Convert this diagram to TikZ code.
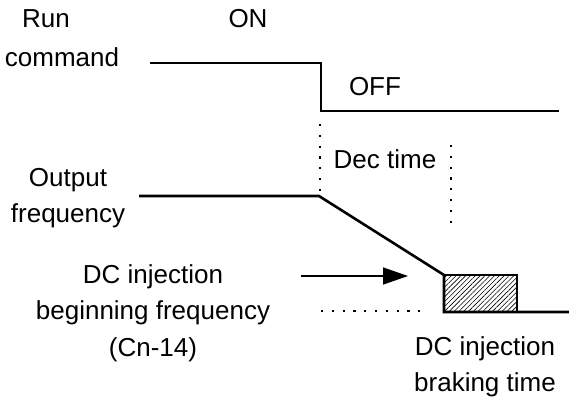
\documentclass[tikz,border=0pt]{standalone}
\usepackage{fontspec}
\setmainfont{Liberation Sans}
\usetikzlibrary{arrows.meta, positioning, patterns.meta}

\begin{document}
\begin{tikzpicture}[
    x=1pt, y=-1pt,
    lbl/.style={font=\fontsize{26}{36.5}\selectfont, align=center, inner sep=0pt},
    sig/.style={line width=2.6pt},
    guide/.style={line width=2.2pt, dash pattern=on 2.2pt off 8.6pt},
    arr/.style={-{Triangle[length=25pt, width=17pt]}, line width=1.5pt}
  ]
  \useasboundingbox (0,0) rectangle (569,400);
  % labels
  \node[lbl] (run) at (46,19) {Run};
  \node[lbl] (cmd) at (62,57) {command};
  \node[lbl] (on) at (248,19) {ON};
  \node[lbl] (off) at (375,87) {OFF};
  \node[lbl] (out) at (68,198) {Output\\frequency};
  \node[lbl] (dec) at (385,159) {Dec time};
  \node[lbl] (beg) at (153,313) {DC injection\\beginning frequency\\(Cn-14)};
  \node[lbl] (brk) at (485,367) {DC injection\\braking time};
  % run command
  \coordinate (r0) at (150,63);
  \coordinate (r1) at (321,63);
  \coordinate (r2) at (321,111);
  \coordinate (r3) at (559,111);
  \draw[sig] (r0) -- (r1) -- (r2) -- (r3);
  % output frequency
  \coordinate (f0) at (139,196);
  \coordinate (f1) at (319,196);
  \coordinate (f2) at (444,275);
  \coordinate (f3) at (444,312);
  \coordinate (f4) at (569,312);
  \coordinate (b1) at (517,312);
  \draw[line width=2pt, pattern={Lines[angle=45, distance=3.4pt, line width=0.6pt]}]
    (f2) rectangle (b1);
  \draw[sig] (f0) -- (f1) -- (f2) -- (f3) -- (f4);
  % guides
  \coordinate (d0) at (320,124);
  \coordinate (d1) at (320,195);
  \coordinate (e0) at (451,145);
  \coordinate (e1) at (451,228);
  \coordinate (h0) at (321,311);
  \coordinate (h1) at (427,311);
  \draw[guide] (d0) -- (d1);
  \draw[guide] (e0) -- (e1);
  \draw[guide] (h0) -- (h1);
  \coordinate (a0) at (301,276);
  \coordinate (a1) at (408,276);
  \draw[arr] (a0) -- (a1);
\end{tikzpicture}
\end{document}
